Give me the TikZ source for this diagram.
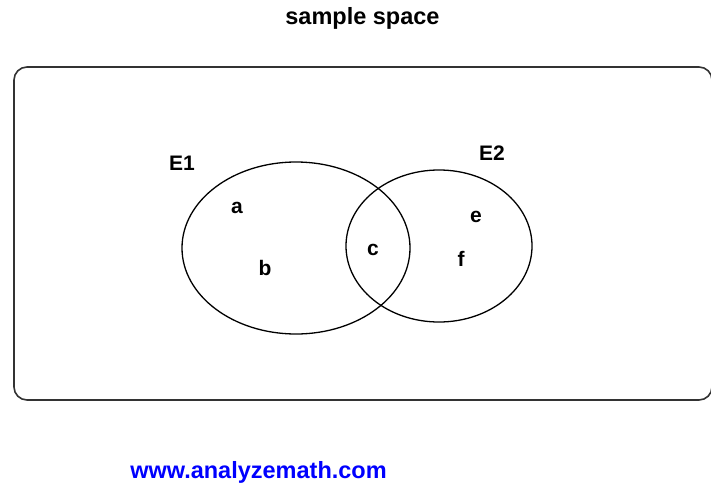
\documentclass[tikz,border=0pt]{standalone}
\usepackage{fontspec}
\setmainfont{Liberation Sans}
\usepackage{xcolor}
\usepackage{tikz}
\usetikzlibrary{shapes.geometric}

\begin{document}
\begin{tikzpicture}[
      x=1pt, y=-1pt,
      setbox/.style={draw, line width=1.6pt, rounded corners=13pt, black!80},
      evt/.style={ellipse, draw, line width=1.3pt, inner sep=0pt},
      lbl/.style={font=\fontsize{21}{25}\selectfont\bfseries, inner sep=0pt},
      big/.style={font=\fontsize{23.5}{28}\selectfont\bfseries, inner sep=0pt}]
    \useasboundingbox (0,0) rectangle (711,487);
    \node[big] (title) at (362.5,18) {sample space};
    \draw[setbox] (14,67) rectangle (712,400);
    \node[evt, minimum width=228pt, minimum height=172pt] (e1) at (296,248) {};
    \node[evt, minimum width=186pt, minimum height=152pt] (e2) at (439,246) {};
    \node[lbl] (n1) at (182,163) {E1};
    \node[lbl] (n2) at (492,153) {E2};
    \foreach \n/\x/\y in {a/237/208, b/265/268, c/373/250, e/476/217, f/461/259}
      \node[lbl] (\n) at (\x,\y) {\n};
    \node[big, blue] (url) at (258.5,472) {www.analyzemath.com};
  \end{tikzpicture}
\end{document}
